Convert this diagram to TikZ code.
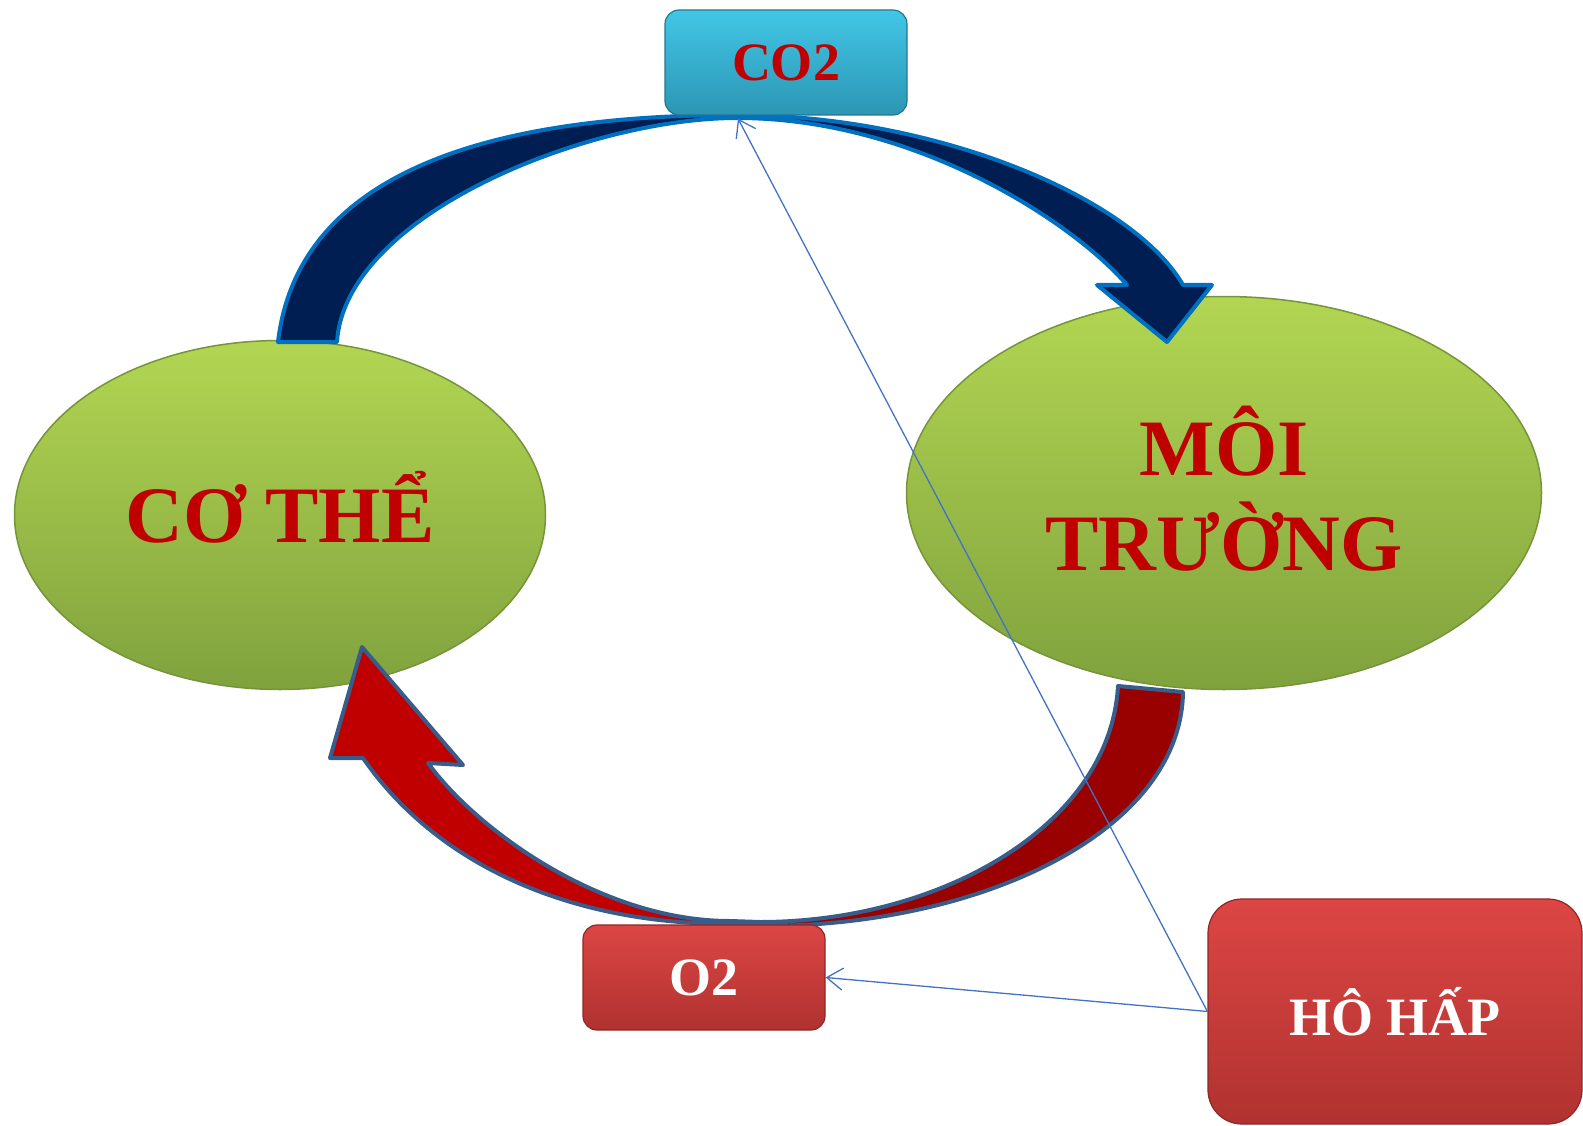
\documentclass[tikz,border=0pt]{standalone}
\usepackage{fontspec}
\setmainfont{Liberation Serif}
\usetikzlibrary{shapes.geometric,arrows.meta}
\definecolor{textred}{RGB}{192,0,0}
\definecolor{leaftop}{RGB}{178,214,82}
\definecolor{leafbot}{RGB}{128,162,62}
\definecolor{leafline}{RGB}{118,148,58}
\definecolor{navy}{RGB}{0,30,82}
\definecolor{rimblue}{RGB}{0,112,192}
\definecolor{redlight}{RGB}{192,0,0}
\definecolor{reddark}{RGB}{153,0,0}
\definecolor{rimsteel}{RGB}{56,93,138}
\definecolor{cyantop}{RGB}{66,198,230}
\definecolor{cyanbot}{RGB}{44,150,180}
\definecolor{boxtop}{RGB}{220,70,68}
\definecolor{boxbot}{RGB}{176,50,48}
\definecolor{linkblue}{RGB}{68,114,196}
\tikzset{every picture/.style = {x=1pt, y=-1pt}}
\tikzset{blob/.style = {ellipse, draw=leafline, line width=1.5, top color=leaftop, bottom color=leafbot, inner sep=0, text=textred, align=center, font=\bfseries\fontsize{80}{95}\selectfont}}
\tikzset{tag/.style = {rectangle, inner sep=0, line width=1.2, font=\bfseries\fontsize{54}{60}\selectfont}}
\tikzset{cyanbox/.style = {tag, rounded corners=14, draw=cyanbot!80!black, top color=cyantop, bottom color=cyanbot, text=textred}}
\tikzset{redbox/.style = {tag, draw=boxbot!80!black, top color=boxtop, bottom color=boxbot, text=white}}
\tikzset{bluearrow/.style = {fill=navy, draw=rimblue, line width=4, line join=round}}
\tikzset{redrim/.style = {draw=rimsteel, line width=4, line join=round}}
\tikzset{link/.style = {draw=linkblue, line width=1.3, -{Straight Barb[length=16, width=22]}}}

\begin{document}
\begin{tikzpicture}
  \useasboundingbox (0,0) rectangle (1583,1126);
  \node[blob, minimum width=531, minimum height=349, text depth=16] (body) at (280,515) {CƠ THỂ};
  \node[blob, minimum width=635, minimum height=393, text depth=10] (env) at (1224,493) {MÔI\\TRƯỜNG};

  \filldraw[bluearrow] (278,342)
    .. controls (298,172) and (490,115) .. (737,115)
    .. controls (937,115) and (1133,198) .. (1183,285)
    -- (1212,285) -- (1167,342) -- (1097,285) -- (1127,285)
    .. controls (1075,224) and (917,118) .. (737,118)
    .. controls (587,118) and (345,215) .. (337,342)
    -- cycle;

  \def\redloop{(1118,686)
    .. controls (1110,826) and (940,922) .. (760,922)
    -- (730,921)
    .. controls (600,921) and (475,828) .. (428,763)
    -- (463,765) -- (362,647) -- (330,758) -- (363,758)
    .. controls (437,865) and (570,924) .. (730,924)
    -- (760,926)
    .. controls (980,927) and (1181,832) .. (1183,692)
    -- cycle}
  \fill[redlight] \redloop;
  \begin{scope}
    \clip (775,600) rectangle (1300,1000);
    \fill[reddark] \redloop;
  \end{scope}
  \draw[redrim] \redloop;

  \node[cyanbox, minimum width=242, minimum height=105] (co2) at (786,62.5) {CO2};
  \node[redbox, rounded corners=14, minimum width=242, minimum height=105] (o2) at (704,977.5) {O2};
  \node[redbox, rounded corners=34, minimum width=374, minimum height=225] (breath) at (1395,1011.5) {HÔ HẤP};

  \draw[link] (breath.west) -- ([xshift=-48pt, yshift=-3pt]co2.south);
  \draw[link] (breath.west) -- (o2.east);
\end{tikzpicture}
\end{document}
